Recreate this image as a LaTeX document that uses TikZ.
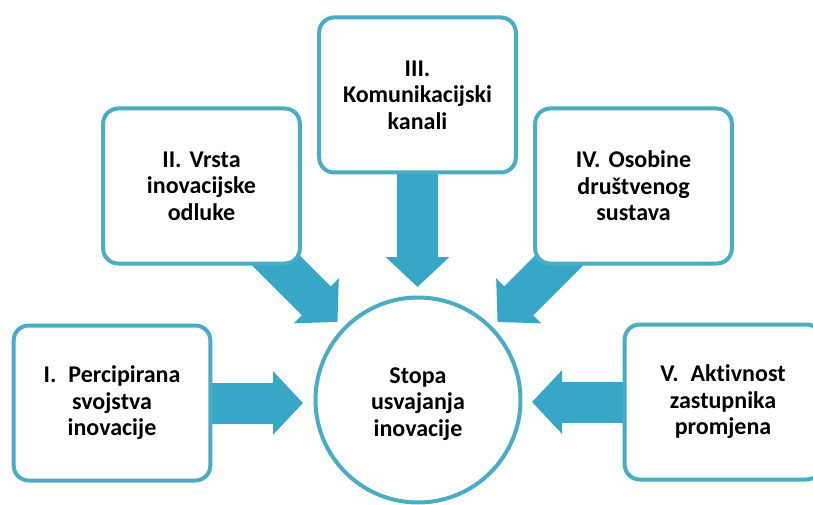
\documentclass[tikz,border=0pt]{standalone}
\usepackage{fontspec}
\setmainfont{Carlito}[RawFeature=-liga]
\usetikzlibrary{arrows.meta}
\pgfdeclarelayer{background}
\pgfsetlayers{background,main}
\definecolor{boxblue}{RGB}{75,172,198}
\definecolor{arrowblue}{RGB}{56,166,199}
\tikzset{
  card/.style={draw=boxblue, line width=4pt, fill=white, rounded corners=15pt,
    minimum width=196pt, minimum height=155pt, align=center, text width=190pt,
    font=\fontsize{24pt}{26.5pt}\selectfont\bfseries},
  hub/.style={draw=boxblue, line width=4pt, fill=white, circle, minimum size=205pt,
    inner sep=0pt, align=center, font=\fontsize{24pt}{26.5pt}\selectfont\bfseries},
  hubtext/.style={align=center, font=\fontsize{24pt}{26.5pt}\selectfont\bfseries},
  bigarrow/.style={draw=arrowblue, line width=41pt,
    -{Triangle[length=30pt 0 0, width=62pt 0, fill=arrowblue]}}
}
\frenchspacing
\begin{document}
\begin{tikzpicture}[x=1pt,y=-1pt]
\clip (0,0) rectangle (813,505);
\node[hub] (hub) at (418,400) {};
\node[hubtext] (hubt) at (418,404) {Stopa\\usvajanja\\inovacije};
\node[card] (b1) at (112,403) {I.\hspace{0.5em}Percipirana\\svojstva\\inovacije};
\node[card] (b2) at (201.5,186) {II. Vrsta\\inovacijske\\odluke};
\node[card] (b3) at (417.5,95) {III.\\Komunikacijski\\kanali};
\node[card] (b4) at (633.5,186) {IV. Osobine\\društvenog\\sustava};
\node[card] (b5) at (723,402) {V.\hspace{0.5em}Aktivnost\\zastupnika\\promjena};
\coordinate (t1) at (303,403);
\coordinate (t2) at (337.5,322);
\coordinate (t3) at (417.5,287);
\coordinate (t4) at (497.5,322);
\coordinate (t5) at (532,402);
\begin{pgfonlayer}{background}
\fill[white] (0,0) rectangle (813,505);
\draw[bigarrow] (b1.center) -- (t1);
\draw[bigarrow] (b2.center) -- (t2);
\draw[bigarrow] (b3.center) -- (t3);
\draw[bigarrow] (b4.center) -- (t4);
\draw[bigarrow] (b5.center) -- (t5);
\end{pgfonlayer}
\end{tikzpicture}
\end{document}
